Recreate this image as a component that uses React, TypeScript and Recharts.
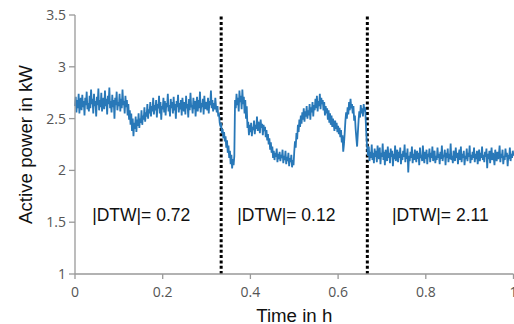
import React from 'react';
import {
  LineChart,
  Line,
  XAxis,
  YAxis,
  ReferenceLine,
  ReferenceDot,
  Label
} from 'recharts';

// active power samples, evenly spaced over one hour
const power = [
  // first window
  2.62, 2.71, 2.56, 2.68, 2.60, 2.74, 2.55, 2.66, 2.70, 2.58,
  2.73, 2.61, 2.67, 2.53, 2.70, 2.63, 2.76, 2.59, 2.65, 2.57,
  2.72, 2.60, 2.78, 2.64, 2.69, 2.55, 2.74, 2.62, 2.67, 2.52,
  2.71, 2.63, 2.79, 2.58, 2.68, 2.61, 2.75, 2.57, 2.66, 2.70,
  2.59, 2.77, 2.62, 2.69, 2.54, 2.72, 2.64, 2.80, 2.60, 2.67,
  2.56, 2.73, 2.61, 2.68, 2.50, 2.70, 2.63, 2.76, 2.58, 2.66,
  2.62, 2.74, 2.57, 2.69, 2.60, 2.78, 2.63, 2.67, 2.55, 2.72,
  2.61, 2.68, 2.53, 2.64, 2.49, 2.58, 2.44, 2.55, 2.38, 2.50,
  2.33, 2.46, 2.40, 2.52, 2.37, 2.49, 2.43, 2.55, 2.41, 2.50,
  2.46, 2.58, 2.44, 2.53, 2.49, 2.61, 2.47, 2.56, 2.52, 2.64,
  2.50, 2.59, 2.55, 2.66, 2.52, 2.62, 2.57, 2.70, 2.54, 2.63,
  2.58, 2.68, 2.51, 2.64, 2.60, 2.72, 2.55, 2.66, 2.49, 2.62,
  2.59, 2.70, 2.56, 2.67, 2.53, 2.65, 2.61, 2.74, 2.57, 2.63,
  2.52, 2.69, 2.60, 2.66, 2.55, 2.71, 2.58, 2.64, 2.50, 2.67,
  2.61, 2.73, 2.56, 2.65, 2.59, 2.68, 2.53, 2.70, 2.62, 2.57,
  2.66, 2.54, 2.72, 2.60, 2.64, 2.51, 2.69, 2.58, 2.75, 2.61,
  2.63, 2.55, 2.70, 2.59, 2.67, 2.52, 2.64, 2.71, 2.57, 2.68,
  2.60, 2.76, 2.56, 2.65, 2.61, 2.69, 2.54, 2.72, 2.59, 2.66,
  2.62, 2.58, 2.70, 2.55, 2.67, 2.63, 2.77, 2.60, 2.68, 2.57,
  2.65, 2.59, 2.70, 2.61, 2.56, 2.62, 2.52, 2.55, 2.46, 2.43,
  // second window
  2.44, 2.36, 2.40, 2.31, 2.37, 2.28, 2.33, 2.22, 2.29, 2.17,
  2.24, 2.12, 2.19, 2.06, 2.15, 2.02, 2.11, 2.05, 2.14, 2.68,
  2.60, 2.74, 2.63, 2.70, 2.57, 2.77, 2.66, 2.72, 2.59, 2.78,
  2.64, 2.71, 2.55, 2.68, 2.50, 2.62, 2.41, 2.47, 2.34, 2.44,
  2.37, 2.46, 2.33, 2.42, 2.39, 2.48, 2.35, 2.44, 2.40, 2.52,
  2.38, 2.47, 2.43, 2.36, 2.49, 2.41, 2.45, 2.34, 2.44, 2.38,
  2.42, 2.32, 2.39, 2.29, 2.35, 2.25, 2.31, 2.20, 2.27, 2.17,
  2.23, 2.12, 2.19, 2.10, 2.17, 2.13, 2.21, 2.08, 2.16, 2.11,
  2.18, 2.09, 2.15, 2.12, 2.20, 2.07, 2.14, 2.10, 2.19, 2.06,
  2.13, 2.09, 2.17, 2.04, 2.12, 2.08, 2.15, 2.03, 2.10, 2.05,
  2.18, 2.28, 2.22, 2.36, 2.30, 2.44, 2.37, 2.49, 2.42, 2.53,
  2.45, 2.56, 2.49, 2.60, 2.47, 2.57, 2.52, 2.62, 2.50, 2.58,
  2.53, 2.64, 2.49, 2.61, 2.56, 2.66, 2.52, 2.63, 2.58, 2.69,
  2.60, 2.72, 2.57, 2.67, 2.62, 2.74, 2.59, 2.70, 2.64, 2.68,
  2.58, 2.66, 2.53, 2.62, 2.55, 2.60, 2.49, 2.58, 2.46, 2.55,
  2.44, 2.53, 2.42, 2.50, 2.45, 2.38, 2.48, 2.40, 2.46, 2.37,
  2.43, 2.35, 2.41, 2.32, 2.39, 2.27, 2.34, 2.18, 2.25, 2.36,
  2.48, 2.56, 2.50, 2.61, 2.54, 2.66, 2.58, 2.69, 2.60, 2.64,
  2.55, 2.62, 2.48, 2.53, 2.40, 2.31, 2.23, 2.36, 2.48, 2.57,
  2.51, 2.63, 2.55, 2.60, 2.52, 2.64, 2.57, 2.61, 2.45, 2.30,
  // third window
  2.20, 2.14, 2.23, 2.09, 2.18, 2.12, 2.25, 2.10, 2.17, 2.07,
  2.21, 2.13, 2.19, 2.08, 2.24, 2.15, 2.11, 2.22, 2.06, 2.17,
  2.13, 2.26, 2.10, 2.18, 2.05, 2.20, 2.14, 2.09, 2.23, 2.12,
  2.17, 2.07, 2.21, 2.13, 2.19, 2.04, 2.16, 2.11, 2.24, 2.09,
  2.15, 2.20, 2.08, 2.18, 2.12, 2.22, 2.06, 2.16, 2.10, 2.19,
  2.13, 2.25, 2.08, 2.17, 2.11, 2.21, 1.98, 2.14, 2.09, 2.18,
  2.12, 2.23, 2.07, 2.16, 2.10, 2.20, 2.14, 2.08, 2.19, 2.11,
  2.17, 2.05, 2.22, 2.12, 2.15, 2.09, 2.24, 2.13, 2.07, 2.18,
  2.11, 2.20, 2.06, 2.16, 2.13, 2.21, 2.08, 2.17, 2.12, 2.23,
  2.09, 2.15, 2.19, 2.07, 2.14, 2.10, 2.22, 2.12, 2.16, 2.06,
  2.18, 2.11, 2.24, 2.09, 2.15, 2.13, 2.20, 2.05, 2.17, 2.12,
  2.21, 2.08, 2.16, 2.11, 2.26, 2.10, 2.14, 2.07, 2.19, 2.13,
  2.09, 2.22, 2.12, 2.17, 2.06, 2.15, 2.20, 2.10, 2.23, 2.08,
  2.16, 2.12, 2.19, 2.05, 2.14, 2.11, 2.21, 2.09, 2.17, 2.13,
  2.24, 2.07, 2.15, 2.10, 2.18, 2.12, 2.22, 2.08, 2.16, 2.11,
  2.19, 2.06, 2.14, 2.20, 2.09, 2.17, 2.12, 2.23, 2.10, 2.15,
  2.08, 2.18, 2.13, 2.21, 2.02, 2.16, 2.11, 2.19, 2.07, 2.14,
  2.22, 2.10, 2.17, 2.12, 2.05, 2.20, 2.13, 2.09, 2.18, 2.11,
  2.15, 2.24, 2.08, 2.16, 2.12, 2.20, 2.06, 2.14, 2.10, 2.21,
  2.13, 2.17, 2.04, 2.15, 2.11, 2.22, 2.09, 2.16, 2.12, 2.19,
  2.14
];

const xTicks = [0, 0.2, 0.4, 0.6, 0.8, 1];
const yTicks = [1, 1.5, 2, 2.5, 3, 3.5];
const splits = [1 / 3, 2 / 3];
const dtwLabels = ['|DTW|= 0.72', '|DTW|= 0.12', '|DTW|= 2.11'];
const dtwX = [0.151, 0.482, 0.833];
const dtwY = 1.57;

const chartData = power.map((p, i) => ({ time: i / (power.length - 1), power: p }));

const tickStyle = { fontSize: 14, fill: '#555', fontFamily: 'Open Sans' };
const titleFont = 'Liberation Sans, Arial, sans-serif';

export default function App() {
  return (
    <div style={{ position: 'absolute', left: 0, top: 0, background: '#fff' }}>
      <LineChart
        width={514}
        height={324}
        data={chartData}
        margin={{ top: 15, right: 0.5, bottom: 0, left: 0 }}
      >
        <XAxis
          dataKey="time"
          type="number"
          domain={[0, 1]}
          ticks={xTicks}
          height={50}
          tick={tickStyle}
          tickSize={5}
          tickMargin={8}
          stroke="#999"
          strokeWidth={1.3}
          interval={0}
        >
          <Label
            value="Time in h"
            position="insideBottom"
            offset={2}
            style={{ fontSize: 18.7, fill: '#111', fontFamily: titleFont }}
          />
        </XAxis>
        <YAxis
          type="number"
          domain={[1, 3.5]}
          ticks={yTicks}
          width={75}
          tick={tickStyle}
          tickSize={6}
          tickMargin={3}
          stroke="#999"
          strokeWidth={1.3}
          interval={0}
        >
          <Label
            value="Active power in kW"
            angle={-90}
            position="insideLeft"
            offset={25}
            style={{ fontSize: 18.7, fill: '#111', fontFamily: titleFont, textAnchor: 'middle' }}
          />
        </YAxis>
        {splits.map((s, i) => (
          <ReferenceLine
            key={`split-${i}`}
            x={s}
            stroke="#000"
            strokeWidth={3}
            strokeDasharray="3 2.3"
          />
        ))}
        <Line
          type="linear"
          dataKey="power"
          stroke="#2878b8"
          strokeWidth={1.8}
          dot={false}
          isAnimationActive={false}
        />
        {dtwLabels.map((t, i) => (
          <ReferenceDot
            key={`dtw-${i}`}
            x={dtwX[i]}
            y={dtwY}
            r={0}
            stroke="none"
            fill="none"
            label={{ value: t, position: 'center', fontSize: 17.5, fill: '#111', fontFamily: titleFont }}
          />
        ))}
      </LineChart>
    </div>
  );
}
